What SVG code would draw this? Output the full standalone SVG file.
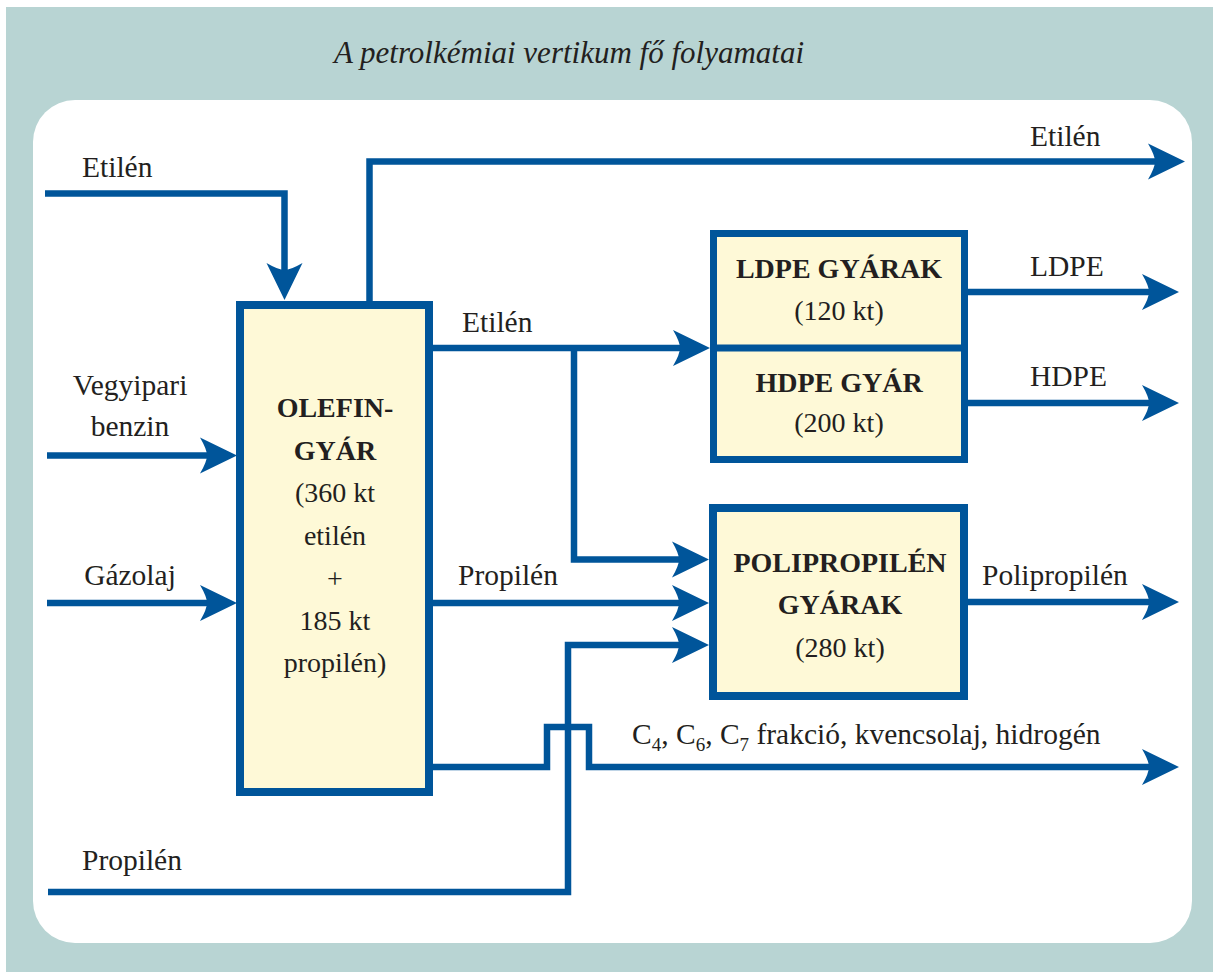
<svg xmlns="http://www.w3.org/2000/svg" width="1213" height="972" viewBox="0 0 1213 972">
<style>
.t{font-family:"Liberation Serif","Times New Roman",serif;font-size:28px;fill:#231F20}
.l{font-size:29.5px}
.b{font-family:"Liberation Serif","Times New Roman",serif;font-size:28px;font-weight:bold;fill:#231F20}
.ttl{font-family:"Liberation Serif","Times New Roman",serif;font-size:31px;font-style:italic;fill:#231F20}
.ln{fill:none;stroke:#00559A;stroke-width:6.5;stroke-linejoin:miter}
.arr{marker-end:url(#ah)}
.box{fill:#FEF9D7;stroke:#00559A;stroke-width:8}
</style>
<defs>
<marker id="ah" markerUnits="userSpaceOnUse" orient="auto" overflow="visible" refX="0" refY="0" markerWidth="40" markerHeight="40">
<path d="M20,0 L-17,-18 Q-10,-6 -10,0 Q-10,6 -17,18 Z" fill="#00559A"/>
</marker>
</defs>
<rect x="6" y="7" width="1207" height="965" fill="#B8D4D3"/>
<rect x="33" y="100" width="1159" height="843" rx="42" ry="42" fill="#FFFFFF"/>
<text class="ttl" x="569" y="63" text-anchor="middle">A petrolkémiai vertikum fő folyamatai</text>

<g id="connectors">
<path class="ln arr" d="M45,193.5 H284.5 V280"/>
<path class="ln arr" d="M369.5,301 V161.5 H1165"/>
<path class="ln arr" d="M47,455.5 H217"/>
<path class="ln arr" d="M47,603 H217"/>
<path class="ln arr" d="M433,348 H690"/>
<path class="ln arr" d="M574,348 V559.5 H689"/>
<path class="ln arr" d="M433,603 H689"/>
<path class="ln arr" d="M48,892 H568 V645 H689"/>
<path class="ln arr" d="M433,767 H547 V727 H589 V767 H1159"/>
<path class="ln arr" d="M968,292 H1159"/>
<path class="ln arr" d="M968,403 H1159"/>
<path class="ln arr" d="M968,602 H1159"/>
</g>

<g id="olefin">
<rect class="box" x="240" y="305" width="189" height="487"/>
<text class="b" x="335" y="417" text-anchor="middle">OLEFIN-</text>
<text class="b" x="335" y="460" text-anchor="middle">GYÁR</text>
<text class="t" x="335" y="502" text-anchor="middle">(360 kt</text>
<text class="t" x="335" y="545" text-anchor="middle">etilén</text>
<text class="t" x="335" y="588" text-anchor="middle">+</text>
<text class="t" x="335" y="630" text-anchor="middle">185 kt</text>
<text class="t" x="335" y="672" text-anchor="middle">propilén)</text>
</g>

<g id="ldpe-hdpe">
<rect class="box" x="713.5" y="233.5" width="251" height="226" style="stroke-width:7"/>
<line x1="710" y1="348" x2="968" y2="348" stroke="#00559A" stroke-width="7"/>
<text class="b" x="839" y="278" text-anchor="middle">LDPE GYÁRAK</text>
<text class="t" x="839" y="320" text-anchor="middle">(120 kt)</text>
<text class="b" x="839" y="392" text-anchor="middle">HDPE GYÁR</text>
<text class="t" x="839" y="432" text-anchor="middle">(200 kt)</text>
</g>

<g id="pp">
<rect class="box" x="713" y="508" width="251" height="188"/>
<text class="b" x="840" y="572" text-anchor="middle">POLIPROPILÉN</text>
<text class="b" x="840" y="614" text-anchor="middle">GYÁRAK</text>
<text class="t" x="840" y="657" text-anchor="middle">(280 kt)</text>
</g>

<g id="labels">
<text class="t l" x="82" y="177">Etilén</text>
<text class="t l" x="130" y="395" text-anchor="middle">Vegyipari</text>
<text class="t l" x="130" y="436" text-anchor="middle">benzin</text>
<text class="t l" x="130" y="585" text-anchor="middle">Gázolaj</text>
<text class="t l" x="82" y="870">Propilén</text>
<text class="t l" x="462" y="332">Etilén</text>
<text class="t l" x="458" y="585">Propilén</text>
<text class="t l" x="1030" y="146">Etilén</text>
<text class="t l" x="1030" y="276">LDPE</text>
<text class="t l" x="1030" y="386">HDPE</text>
<text class="t l" x="982" y="585">Polipropilén</text>
<text class="t l" x="632" y="744">C<tspan font-size="19" dy="7">4</tspan><tspan dy="-7">, C</tspan><tspan font-size="19" dy="7">6</tspan><tspan dy="-7">, C</tspan><tspan font-size="19" dy="7">7</tspan><tspan dy="-7"> frakció, kvencsolaj, hidrogén</tspan></text>
</g>
</svg>
